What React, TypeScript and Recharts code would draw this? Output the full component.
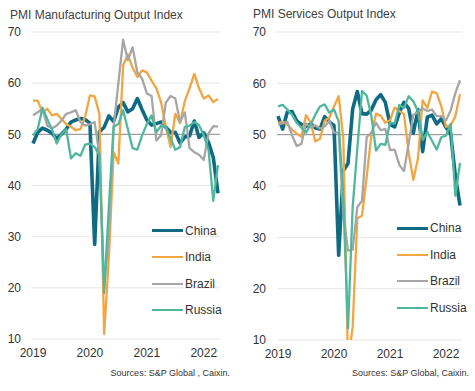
import { LineChart, Line, XAxis, YAxis, CartesianGrid, ReferenceLine } from "recharts";

const months = [
  "2019-01", "2019-02", "2019-03", "2019-04", "2019-05", "2019-06", "2019-07", "2019-08", "2019-09", "2019-10", "2019-11", "2019-12",
  "2020-01", "2020-02", "2020-03", "2020-04", "2020-05", "2020-06", "2020-07", "2020-08", "2020-09", "2020-10", "2020-11", "2020-12",
  "2021-01", "2021-02", "2021-03", "2021-04", "2021-05", "2021-06", "2021-07", "2021-08", "2021-09", "2021-10", "2021-11", "2021-12",
  "2022-01", "2022-02", "2022-03", "2022-04",
];
const yearTicks = ["2019-01", "2020-01", "2021-01", "2022-01"];
const yTicks = [10, 20, 30, 40, 50, 60, 70];

// Manufacturing output index
const mfgChina = [48.2, 50.4, 51.2, 50.8, 50.2, 49.2, 50.0, 51.0, 52.4, 52.8, 53.1, 52.9, 52.2, 28.5, 50.5, 51.4, 53.6, 52.5, 55.3, 56.2, 54.4, 55.0, 57.0, 54.8, 52.8, 51.8, 52.1, 52.4, 51.4, 50.4, 50.4, 48.3, 49.5, 49.7, 52.6, 49.4, 50.3, 48.4, 45.5, 38.5];
const mfgIndia = [56.6, 56.6, 54.3, 55.0, 53.7, 54.0, 53.0, 52.0, 51.5, 50.8, 51.0, 53.5, 57.6, 57.4, 54.0, 11.0, 26.0, 46.5, 44.3, 63.5, 65.6, 63.0, 61.2, 62.5, 62.1, 60.5, 59.0, 56.3, 51.5, 47.5, 54.0, 52.2, 56.5, 59.0, 61.8, 59.0, 57.0, 57.6, 56.3, 56.9];
const mfgBrazil = [53.7, 54.3, 55.0, 51.7, 51.2, 51.7, 52.7, 54.0, 54.3, 54.7, 52.4, 51.7, 52.0, 52.4, 46.0, 20.0, 30.0, 51.5, 60.0, 68.5, 64.5, 67.0, 62.1, 60.9, 58.0, 57.5, 48.8, 49.8, 56.2, 57.5, 57.0, 52.4, 54.3, 47.3, 46.5, 46.0, 45.0, 50.2, 51.6, 51.5];
const mfgRussia = [49.8, 51.0, 55.2, 53.0, 51.0, 48.2, 50.0, 51.0, 45.3, 46.3, 45.8, 48.0, 48.2, 47.5, 46.0, 19.0, 36.0, 51.5, 52.0, 54.7, 51.0, 47.3, 47.0, 49.8, 52.0, 53.7, 50.4, 51.7, 51.5, 49.2, 47.0, 47.5, 51.4, 51.7, 52.4, 51.8, 49.8, 47.0, 37.0, 44.0];

// Services output index
const svcChina = [53.6, 51.1, 54.4, 54.5, 52.7, 52.0, 51.6, 52.1, 51.3, 51.1, 53.5, 52.5, 51.8, 26.5, 43.0, 44.4, 55.0, 58.4, 54.1, 54.0, 54.8, 56.8, 57.8, 56.3, 52.0, 51.5, 54.3, 56.3, 55.1, 50.3, 54.9, 46.7, 53.4, 53.8, 52.1, 53.1, 51.4, 50.2, 42.0, 36.2];
const svcIndia = [52.2, 52.5, 52.0, 51.0, 50.2, 49.6, 53.8, 52.4, 48.7, 49.2, 52.7, 53.3, 55.5, 57.5, 49.3, 5.4, 12.6, 33.7, 34.2, 41.8, 49.8, 54.1, 53.7, 52.3, 52.8, 55.3, 54.6, 54.0, 46.4, 41.2, 45.4, 56.7, 55.2, 58.4, 58.1, 55.5, 51.5, 51.8, 53.6, 57.9];
const svcBrazil = [52.0, 52.2, 52.5, 49.9, 47.8, 48.2, 52.2, 51.4, 51.8, 51.2, 51.6, 52.7, 50.4, 50.4, 34.5, 27.4, 27.6, 35.9, 37.1, 49.5, 50.4, 52.3, 50.9, 51.1, 47.0, 47.1, 44.1, 42.9, 48.3, 53.9, 54.4, 55.1, 54.6, 54.9, 53.6, 53.6, 52.8, 54.7, 58.1, 60.6];
const svcRussia = [55.5, 55.8, 54.9, 53.9, 52.3, 51.4, 50.4, 52.0, 53.9, 55.5, 55.9, 54.3, 54.9, 52.6, 37.1, 12.2, 35.9, 47.3, 58.5, 57.6, 53.7, 46.9, 48.2, 48.0, 52.3, 52.2, 55.8, 55.2, 57.5, 56.5, 54.5, 49.0, 50.5, 48.8, 47.1, 49.5, 49.8, 52.1, 38.1, 44.5];

const SERIES = [
  { key: "China", color: "#0f6b84", width: 3.6 },
  { key: "India", color: "#f2a541", width: 2.3 },
  { key: "Brazil", color: "#a6a6a6", width: 2.3 },
  { key: "Russia", color: "#4fb89c", width: 2.3 },
];

const buildRows = (china: number[], india: number[], brazil: number[], russia: number[]) =>
  months.map((m, i) => ({ month: m, China: china[i], India: india[i], Brazil: brazil[i], Russia: russia[i] }));

const TEXT = "#333";

function Panel(props: any) {
  const { left, width, title, rows, yAxisWidth, marginRight, bottom, legendLeft, legendTop, source, sourceRight, titleLeft, titleTop } = props;
  return (
    <div style={{ position: "absolute", left, top: 0, width, height: 391 }}>
      <LineChart width={width} height={391} data={rows} margin={{ top: 32, right: marginRight, bottom, left: 0 }}>
        <CartesianGrid vertical={false} stroke="#e6e6e6" />
        <XAxis
          dataKey="month"
          ticks={yearTicks}
          interval={0}
          tickFormatter={(v: string) => v.slice(0, 4)}
          tickLine={false}
          axisLine={false}
          tickSize={0}
          tickMargin={9}
          height={20}
          padding={{ left: 1, right: 2 }}
          tick={{ fontSize: 12, fill: TEXT }}
        />
        <YAxis
          domain={[10, 70]}
          ticks={yTicks}
          allowDataOverflow
          width={yAxisWidth}
          tickLine={false}
          axisLine={false}
          tickSize={0}
          tickMargin={11}
          tick={{ fontSize: 12, fill: TEXT }}
        />
        <ReferenceLine y={50} stroke="#8c8c8c" strokeWidth={1} />
        {SERIES.map((s) => (
          <Line
            key={s.key}
            type="linear"
            dataKey={s.key}
            stroke={s.color}
            strokeWidth={s.width}
            strokeLinejoin="round"
            dot={false}
            isAnimationActive={false}
          />
        ))}
      </LineChart>
      <div style={{ position: "absolute", left: titleLeft, top: titleTop, fontSize: 12, lineHeight: "12px", color: "#404040", whiteSpace: "nowrap" }}>
        {title}
      </div>
      <div style={{ position: "absolute", left: legendLeft, top: legendTop }}>
        {SERIES.map((s) => (
          <div key={s.key} style={{ display: "flex", alignItems: "center", height: 26.5 }}>
            <div style={{ width: 31, height: s.key === "China" ? 3.2 : 2.2, background: s.color }} />
            <span style={{ marginLeft: 2, fontSize: 12, color: TEXT }}>{s.key}</span>
          </div>
        ))}
      </div>
      <div style={{ position: "absolute", right: sourceRight, top: 368.6, fontSize: 9, lineHeight: "9px", color: TEXT, whiteSpace: "nowrap" }}>
        {source}
      </div>
    </div>
  );
}

export default function App() {
  return (
    <div
      style={{
        position: "absolute",
        left: 0,
        top: 0,
        width: 475,
        height: 391,
        background: "#fff",
        fontFamily: "'Liberation Sans', Arial, sans-serif",
        overflow: "hidden",
      }}
    >
      <Panel
        left={0}
        width={235}
        title="PMI Manufacturing Output Index"
        titleLeft={10}
        titleTop={9.3}
        rows={buildRows(mfgChina, mfgIndia, mfgBrazil, mfgRussia)}
        yAxisWidth={32}
        marginRight={15}
        bottom={32}
        legendLeft={152}
        legendTop={217.4}
        source="Sources: S&P Global , Caixin."
        sourceRight={5}
      />
      <Panel
        left={235}
        width={240}
        title="PMI Services Output Index"
        titleLeft={18}
        titleTop={8.3}
        rows={buildRows(svcChina, svcIndia, svcBrazil, svcRussia)}
        yAxisWidth={42}
        marginRight={13}
        bottom={31}
        legendLeft={162}
        legendTop={215}
        source="Sources: S&P Global, Caixin."
        sourceRight={6}
      />
    </div>
  );
}
